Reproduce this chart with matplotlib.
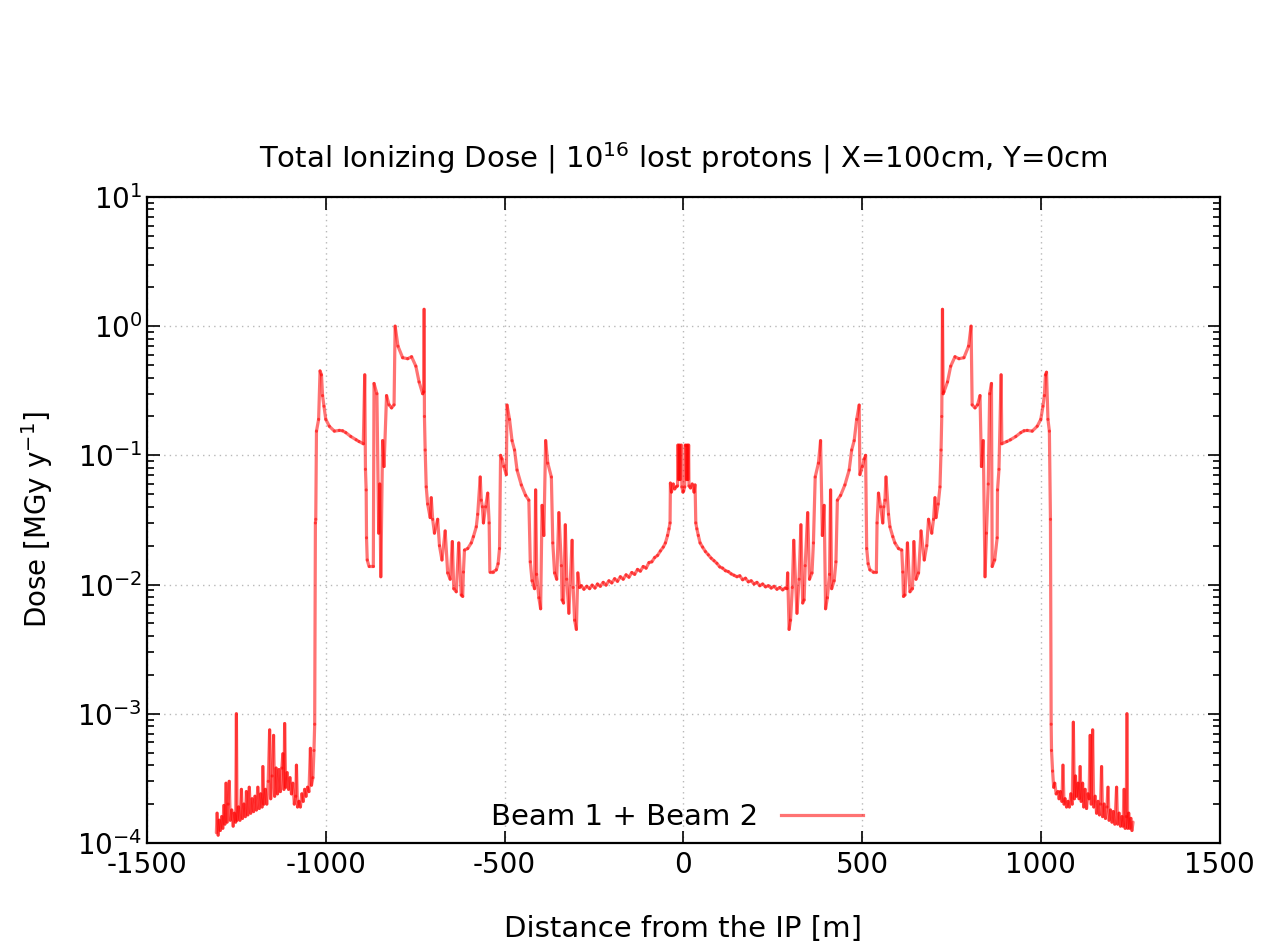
import numpy as np
import matplotlib
matplotlib.use("Agg")
import matplotlib.pyplot as plt
from matplotlib.collections import LineCollection
from matplotlib.lines import Line2D
from matplotlib.ticker import LogLocator, FixedLocator

plt.rcParams["mathtext.default"] = "regular"
plt.rcParams["axes.unicode_minus"] = False

# ---- data (distance [m], dose [MGy/y]) ----
# left tail, x < -1028
x_tail_l = [-1306, -1304, -1301, -1298, -1295, -1291, -1288, -1285, -1282, -1279,
            -1276, -1273, -1270, -1267, -1263, -1259, -1256, -1252, -1250, -1248,
            -1244, -1240, -1236, -1233, -1229, -1225, -1222, -1218, -1214, -1210,
            -1206, -1202, -1198, -1194, -1190, -1186, -1182, -1178, -1176, -1173,
            -1169, -1165, -1161, -1157, -1154, -1150, -1146, -1143, -1139, -1135,
            -1131, -1127, -1123, -1120, -1117, -1115, -1112, -1108, -1104, -1100,
            -1096, -1092, -1088, -1084, -1082, -1079, -1075, -1071, -1067, -1063,
            -1059, -1055, -1051, -1047, -1043, -1040, -1036, -1033, -1031]
dose_tail_l = [1.2e-4, 1.7e-4, 1.15e-4, 1.5e-4, 1.25e-4, 1.6e-4, 1.3e-4, 1.95e-4, 1.4e-4, 2.9e-4,
               1.45e-4, 2.0e-4, 3.0e-4, 1.5e-4, 1.8e-4, 1.35e-4, 1.7e-4, 1.45e-4, 1.0e-3, 1.5e-4,
               1.9e-4, 1.5e-4, 2.6e-4, 1.55e-4, 2.0e-4, 1.6e-4, 2.5e-4, 1.65e-4, 2.7e-4, 1.7e-4,
               2.2e-4, 1.75e-4, 2.3e-4, 1.8e-4, 2.7e-4, 1.85e-4, 2.4e-4, 1.9e-4, 3.9e-4, 2.0e-4,
               2.6e-4, 2.0e-4, 3.0e-4, 7.5e-4, 2.2e-4, 3.3e-4, 6.8e-4, 2.3e-4, 3.8e-4, 2.4e-4,
               3.7e-4, 2.5e-4, 3.8e-4, 4.9e-4, 2.6e-4, 8.4e-4, 2.7e-4, 3.5e-4, 2.6e-4, 3.2e-4,
               2.4e-4, 2.9e-4, 2.0e-4, 2.3e-4, 4.0e-4, 1.9e-4, 2.1e-4, 1.9e-4, 2.4e-4, 2.1e-4,
               2.6e-4, 2.3e-4, 2.7e-4, 2.5e-4, 5.4e-4, 2.8e-4, 3.2e-4, 5.2e-4, 8.3e-4]

# left core, -1029 .. -37
x_core_l = [-1029, -1028, -1026, -1020, -1016, -1012, -1009, -1005, -1000, -990,
            -976, -962, -953, -944, -930, -915, -907, -895, -891, -889,
            -887, -886, -884, -879, -867, -865, -857, -852, -849, -846,
            -841, -837, -830, -823, -816, -809, -806, -798, -785, -771,
            -760, -748, -739, -729, -726, -725, -724, -722, -719, -715,
            -708, -705, -701, -696, -687, -682, -675, -666, -659, -652,
            -646, -642, -635, -628, -621, -617, -615, -612, -603, -593,
            -587, -579, -575, -568, -565, -562, -559, -553, -547, -543,
            -541, -533, -523, -518, -514, -511, -507, -502, -495, -493,
            -486, -479, -472, -465, -453, -441, -432, -428, -423, -416,
            -413, -410, -404, -399, -395, -390, -385, -379, -369, -365,
            -360, -354, -348, -341, -339, -335, -330, -326, -320, -311,
            -308, -304, -299, -295, -290, -285, -278, -270, -262, -255,
            -247, -240, -232, -224, -216, -208, -200, -192, -184, -176,
            -168, -160, -152, -144, -136, -128, -120, -112, -104, -96,
            -88, -80, -72, -64, -56, -50, -44, -40, -37]
dose_core_l = [0.03, 0.032, 0.154, 0.19, 0.45, 0.42, 0.29, 0.24, 0.19, 0.168,
               0.154, 0.156, 0.155, 0.15, 0.14, 0.132, 0.128, 0.123, 0.42, 0.078,
               0.054, 0.023, 0.0155, 0.0138, 0.0138, 0.36, 0.30, 0.025, 0.06, 0.0115,
               0.13, 0.082, 0.29, 0.246, 0.233, 0.246, 1.0, 0.70, 0.57, 0.56,
               0.58, 0.49, 0.37, 0.30, 0.31, 1.35, 0.20, 0.11, 0.057, 0.042,
               0.033, 0.047, 0.032, 0.025, 0.032, 0.020, 0.0155, 0.026, 0.0123, 0.011,
               0.0215, 0.0093, 0.0088, 0.021, 0.0083, 0.0081, 0.0125, 0.0185, 0.019, 0.021,
               0.0235, 0.028, 0.035, 0.068, 0.045, 0.040, 0.030, 0.040, 0.051, 0.030,
               0.0125, 0.0125, 0.013, 0.0145, 0.019, 0.10, 0.094, 0.082, 0.071, 0.245,
               0.19, 0.13, 0.11, 0.077, 0.059, 0.049, 0.045, 0.015, 0.0107, 0.0093,
               0.054, 0.012, 0.0079, 0.0065, 0.041, 0.024, 0.13, 0.087, 0.068, 0.021,
               0.0123, 0.011, 0.036, 0.014, 0.0076, 0.0072, 0.029, 0.011, 0.006, 0.022,
               0.0095, 0.0053, 0.0045, 0.0123, 0.0095, 0.0098, 0.0092, 0.0097, 0.0093, 0.0099,
               0.0094, 0.0101, 0.0097, 0.0104, 0.0099, 0.0107, 0.0103, 0.0111, 0.0106, 0.0115,
               0.0110, 0.0119, 0.0114, 0.0124, 0.0120, 0.0131, 0.0127, 0.0138, 0.0134, 0.0148,
               0.0150, 0.0162, 0.0168, 0.0182, 0.0195, 0.021, 0.024, 0.027, 0.030]

# central structure, -36 .. 35
x_mid = [-36, -33, -28, -24, -20, -16, -15, -13, -11, -9, -7, -5, -4, -1,
         1, 4, 5, 7, 9, 11, 13, 15, 16, 20, 25, 30, 33, 35]
dose_mid = [0.061, 0.052, 0.06, 0.055, 0.057, 0.058, 0.12, 0.065, 0.12, 0.065, 0.12, 0.12, 0.057, 0.052,
            0.053, 0.057, 0.12, 0.12, 0.065, 0.12, 0.065, 0.12, 0.058, 0.056, 0.06, 0.052, 0.059, 0.030]

# right core, 38 .. 1027
x_core_r = [38, 42, 47, 54, 62, 70, 78, 86, 94, 102,
            110, 118, 126, 134, 142, 150, 158, 166, 174, 182,
            190, 198, 206, 214, 222, 230, 238, 246, 254, 262,
            270, 278, 285, 290, 292, 296, 300, 305, 309, 318,
            324, 329, 334, 338, 341, 348, 353, 360, 364, 369,
            378, 384, 389, 394, 398, 403, 409, 412, 415, 422,
            427, 431, 440, 452, 464, 471, 478, 485, 492, 494,
            501, 506, 510, 513, 517, 522, 532, 540, 542, 546,
            552, 558, 561, 564, 567, 574, 578, 586, 592, 602,
            611, 614, 616, 620, 627, 634, 641, 645, 651, 658,
            665, 674, 681, 686, 695, 700, 704, 707, 713, 718,
            721, 723, 725, 727, 729, 739, 748, 760, 771, 785,
            798, 805, 808, 816, 823, 830, 834, 839, 844, 848,
            853, 857, 862, 864, 871, 878, 879, 883, 889, 891,
            905, 915, 930, 944, 953, 962, 976, 990, 1000, 1006,
            1010, 1013, 1016, 1020, 1024, 1027]
dose_core_r = [0.027, 0.024, 0.021, 0.0195, 0.0180, 0.0170, 0.0160, 0.0153, 0.0146, 0.0137,
               0.0134, 0.0128, 0.0126, 0.0121, 0.0118, 0.0115, 0.0117, 0.0109, 0.0112, 0.0105,
               0.0107, 0.0101, 0.0104, 0.0098, 0.0101, 0.0096, 0.0098, 0.0094, 0.0097, 0.0092,
               0.0095, 0.0091, 0.0094, 0.0093, 0.0123, 0.0045, 0.0053, 0.0095, 0.022, 0.006,
               0.011, 0.029, 0.0072, 0.0076, 0.014, 0.036, 0.011, 0.0123, 0.021, 0.068,
               0.087, 0.13, 0.024, 0.041, 0.0065, 0.0079, 0.012, 0.054, 0.0093, 0.0107,
               0.015, 0.045, 0.049, 0.059, 0.077, 0.11, 0.13, 0.19, 0.245, 0.071,
               0.082, 0.094, 0.10, 0.019, 0.0145, 0.013, 0.0125, 0.0125, 0.030, 0.051,
               0.040, 0.030, 0.040, 0.045, 0.068, 0.035, 0.028, 0.0235, 0.021, 0.019,
               0.0185, 0.0125, 0.0081, 0.0083, 0.021, 0.0088, 0.0093, 0.0215, 0.011, 0.0123,
               0.026, 0.0155, 0.020, 0.032, 0.025, 0.032, 0.047, 0.033, 0.042, 0.057,
               0.11, 0.20, 1.35, 0.30, 0.31, 0.37, 0.49, 0.58, 0.56, 0.57,
               0.70, 1.0, 0.246, 0.233, 0.246, 0.29, 0.082, 0.13, 0.0115, 0.025,
               0.06, 0.30, 0.36, 0.0138, 0.0155, 0.023, 0.054, 0.078, 0.42, 0.123,
               0.128, 0.132, 0.14, 0.15, 0.155, 0.156, 0.154, 0.168, 0.19, 0.24,
               0.29, 0.42, 0.44, 0.19, 0.154, 0.032]

# right tail, x > 1028
x_tail_r = [1029, 1030, 1033, 1036, 1039, 1043, 1048, 1051, 1055, 1059,
            1062, 1065, 1068, 1072, 1076, 1080, 1084, 1088, 1091, 1094,
            1097, 1100, 1104, 1107, 1110, 1113, 1117, 1120, 1124, 1128,
            1132, 1135, 1138, 1141, 1145, 1148, 1152, 1156, 1160, 1164,
            1167, 1170, 1173, 1177, 1181, 1185, 1188, 1191, 1195, 1199,
            1203, 1207, 1212, 1215, 1219, 1223, 1227, 1230, 1233, 1236,
            1239, 1241, 1243, 1246, 1249, 1252, 1255, 1258]
dose_tail_r = [8.3e-4, 5.2e-4, 3.6e-4, 2.7e-4, 2.9e-4, 2.4e-4, 2.5e-4, 2.2e-4, 2.5e-4, 2.1e-4,
               4.0e-4, 2.0e-4, 2.2e-4, 1.9e-4, 2.1e-4, 1.9e-4, 2.4e-4, 2.0e-4, 8.6e-4, 2.2e-4,
               3.3e-4, 2.3e-4, 2.9e-4, 2.2e-4, 3.9e-4, 2.1e-4, 2.9e-4, 1.9e-4, 2.6e-4, 1.85e-4,
               2.4e-4, 2.2e-4, 6.8e-4, 2.0e-4, 7.5e-4, 1.9e-4, 2.3e-4, 1.7e-4, 2.1e-4, 1.65e-4,
               2.0e-4, 3.9e-4, 1.6e-4, 2.0e-4, 1.55e-4, 1.9e-4, 2.7e-4, 1.5e-4, 1.8e-4, 1.45e-4,
               1.75e-4, 1.4e-4, 2.7e-4, 1.4e-4, 1.7e-4, 1.35e-4, 1.6e-4, 1.35e-4, 2.6e-4, 1.3e-4,
               1.6e-4, 1.0e-3, 1.3e-4, 1.7e-4, 1.3e-4, 1.55e-4, 1.25e-4, 1.45e-4]

x_all = np.array(x_tail_l + x_core_l + x_mid + x_core_r + x_tail_r, dtype=float)
dose_all = np.array(dose_tail_l + dose_core_l + dose_mid + dose_core_r + dose_tail_r)

line_color = (1.0, 0.0, 0.0, 0.55)

fig = plt.figure(figsize=(12.63, 9.46), dpi=100)
ax = fig.add_axes([0.1164, 0.1089, 0.8492, 0.6829])

ax.set_xlim(-1500, 1500)
ax.set_yscale("log")
ax.set_ylim(1e-4, 1e1)

# each segment drawn on its own so overlaps build up, gnuplot style
pts = np.column_stack([x_all, dose_all])
segs = np.stack([pts[:-1], pts[1:]], axis=1)
lc = LineCollection(segs, colors=[line_color], linewidths=2.3, capstyle="round")
ax.add_collection(lc)

ax.grid(True, which="major", color="#b8b8b8", linestyle=(0, (1, 3)), linewidth=1.0)
ax.set_axisbelow(True)

ax.xaxis.set_major_locator(FixedLocator([-1500, -1000, -500, 0, 500, 1000, 1500]))
ax.yaxis.set_major_locator(LogLocator(base=10, numticks=10))
ax.yaxis.set_minor_locator(LogLocator(base=10, subs=np.arange(2, 10), numticks=20))
ax.yaxis.set_major_formatter(plt.FuncFormatter(lambda v, p: r"$10^{%d}$" % round(np.log10(v))))
ax.yaxis.set_minor_formatter(plt.NullFormatter())

ax.tick_params(which="both", direction="in", top=True, right=True, labelsize=20, width=1.2)
ax.tick_params(which="major", length=9)
ax.tick_params(which="minor", length=5)
ax.tick_params(axis="x", pad=6)
for sp in ax.spines.values():
    sp.set_linewidth(1.6)

ax.set_title("Total Ionizing Dose | $10^{16}$ lost protons | X=100cm, Y=0cm",
             fontsize=21, pad=21)
ax.set_xlabel("Distance from the IP [m]", fontsize=21, labelpad=26)
ax.set_ylabel("Dose [MGy y$^{-1}$]", fontsize=20, labelpad=16)

handle = Line2D([], [], color=line_color, linewidth=2.3)
ax.legend([handle], ["Beam 1 + Beam 2"], loc="center", bbox_to_anchor=(0.494, 0.04),
          frameon=False, fontsize=21, markerfirst=False, handlelength=2.8)

fig.savefig("out.png", dpi=100)
